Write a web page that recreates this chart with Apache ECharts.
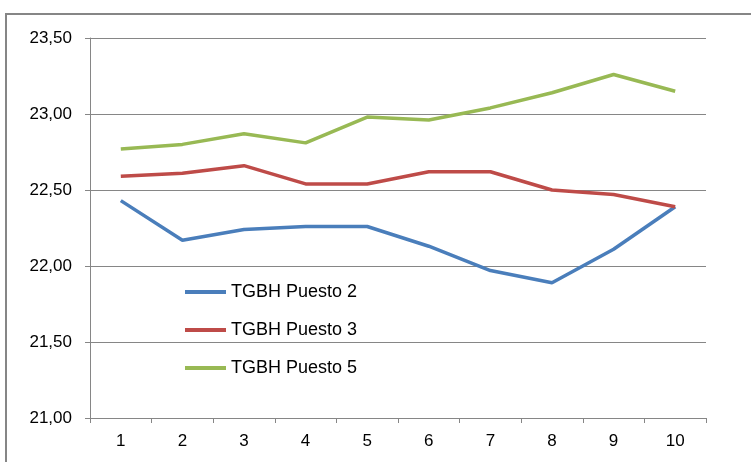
<!DOCTYPE html>
<html><head><meta charset="utf-8">
<script src="https://cdn.jsdelivr.net/npm/echarts@6/dist/echarts.min.js"></script>
<style>html,body{margin:0;padding:0;background:#fff}#c{width:751px;height:462px}</style>
</head><body><div id="c"></div>
<script>
var categories = ['1','2','3','4','5','6','7','8','9','10'];
var seriesNames = ['TGBH Puesto 2','TGBH Puesto 3','TGBH Puesto 5'];
var puesto2 = [22.43, 22.17, 22.24, 22.26, 22.26, 22.13, 21.97, 21.89, 22.11, 22.39];
var puesto3 = [22.59, 22.61, 22.66, 22.54, 22.54, 22.62, 22.62, 22.50, 22.47, 22.39];
var puesto5 = [22.77, 22.80, 22.87, 22.81, 22.98, 22.96, 23.04, 23.14, 23.26, 23.15];
var colors = ['#4A7EBB','#BE4B48','#98B954'];
var font = '"Liberation Sans", sans-serif';

var chart = echarts.init(document.getElementById('c'));
function mk(name, data, color){
  return {name:name, type:'line', data:data, symbol:'none', smooth:false,
    lineStyle:{color:color, width:3.5}, itemStyle:{color:color}};
}
chart.setOption({
  animation:false,
  graphic:[{type:'rect', shape:{x:6, y:14, width:800, height:500},
    style:{fill:'none', stroke:'#868686', lineWidth:2}, silent:true}],
  grid:{left:90, top:38, right:45, bottom:44, containLabel:false},
  legend:{orient:'vertical', left:180, top:278, itemWidth:41, itemHeight:4, itemGap:20,
    icon:'rect', data:seriesNames,
    textStyle:{fontFamily:font, fontSize:18, color:'#000'}},
  xAxis:{type:'category', data:categories, boundaryGap:true,
    axisLine:{lineStyle:{color:'#868686', width:1}},
    axisTick:{show:true, length:5, alignWithLabel:false, lineStyle:{color:'#868686'}},
    axisLabel:{fontFamily:font, fontSize:17, color:'#000', margin:15},
    splitLine:{show:false}},
  yAxis:{type:'value', min:21, max:23.5, interval:0.5,
    axisLine:{show:true, lineStyle:{color:'#868686', width:1}},
    axisTick:{show:true, length:5, lineStyle:{color:'#868686'}},
    axisLabel:{fontFamily:font, fontSize:17, color:'#000', margin:18,
      formatter:function(v){return v.toFixed(2).replace('.',',');}},
    splitLine:{show:true, lineStyle:{color:'#868686', width:1}}},
  series:[mk(seriesNames[0], puesto2, colors[0]), mk(seriesNames[1], puesto3, colors[1]), mk(seriesNames[2], puesto5, colors[2])]
});
</script></body></html>
